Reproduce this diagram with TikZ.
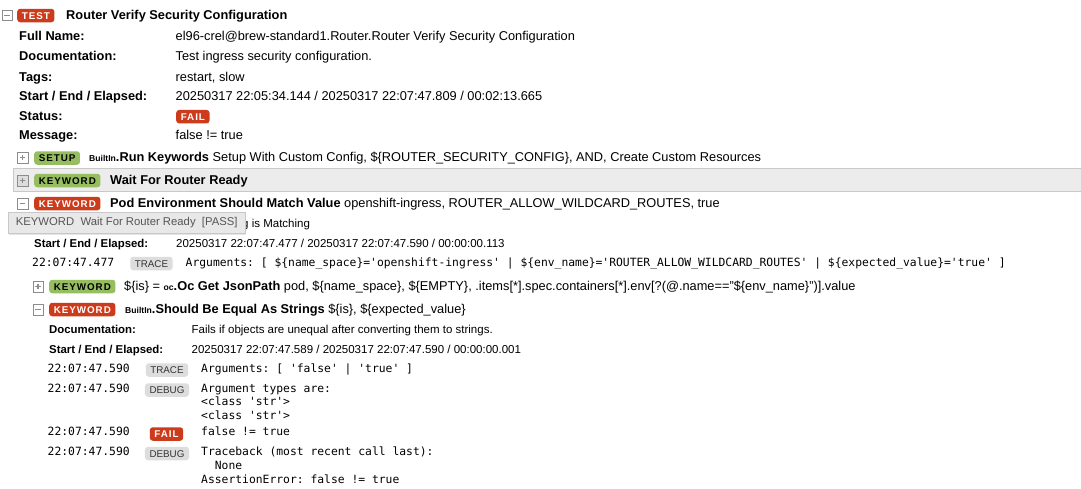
\documentclass[tikz,border=0pt]{standalone}
\usepackage{fontspec}
\setmainfont{Liberation Sans}
\setmonofont{DejaVu Sans Mono}
\newfontfamily\tagfont[LetterSpace=10]{Liberation Sans}
\usetikzlibrary{shadows}
\newcommand\fsz[1]{\fontsize{#1}{#1}\selectfont}
\newcommand\libname[1]{{\fsz{8.6}\bfseries #1}}
\definecolor{failred}{HTML}{CC3C1C}
\definecolor{passgreen}{HTML}{97BD61}
\definecolor{msggray}{HTML}{DDDDDD}
\definecolor{msgtext}{HTML}{333333}
\definecolor{rowfill}{HTML}{ECECEC}
\definecolor{rowline}{HTML}{C8C8C8}
\definecolor{tipfill}{HTML}{E8E8E8}
\definecolor{tiptext}{HTML}{555555}
\definecolor{togline}{HTML}{8C8C8C}

\begin{document}
\begin{tikzpicture}[x=1pt, y=-1pt,
  txt/.style={anchor=base west, inner sep=0pt},
  lbl/.style={txt, font=\fsz{12.8}\bfseries},
  val/.style={txt, font=\fsz{12.8}},
  sublbl/.style={txt, font=\fsz{11.4}\bfseries},
  subval/.style={txt, font=\fsz{11.5}},
  mono/.style={txt, font=\ttfamily\fsz{11.35}},
  tag/.style={rounded corners=3pt, inner xsep=4.6pt, inner ysep=0pt, minimum height=13.5pt,
    text height=7pt, text depth=0pt, anchor=west},
  failtag/.style={tag, fill=failred, text=white, font=\tagfont\fsz{9.8}\bfseries},
  passtag/.style={tag, fill=passgreen, text=black, font=\tagfont\fsz{9.8}\bfseries},
  msgtag/.style={tag, anchor=center, fill=msggray, text=msgtext, font=\fsz{9.8}},
  toggle/.style={draw=togline, fill=white, minimum size=10.5pt, inner sep=0pt, anchor=center},
  minusbox/.style={toggle, path picture={
    \draw[line width=1.5pt] ([xshift=-2.7pt]path picture bounding box.center) -- ([xshift=2.7pt]path picture bounding box.center);}},
  plusbox/.style={toggle, path picture={
    \draw[line width=1.5pt] ([xshift=-2.7pt]path picture bounding box.center) -- ([xshift=2.7pt]path picture bounding box.center)
      ([yshift=-2.7pt]path picture bounding box.center) -- ([yshift=2.7pt]path picture bounding box.center);}}]
\useasboundingbox (0,0) rectangle (1081,488);
\fill[white] (0,0) rectangle (1081,488);

% test header and its metadata
\node[minusbox] (tgTest) at (7,15.3) {};
\node[failtag] (tagTest) at (17,15.5) {TEST};
\node[lbl] (title) at (66,19) {Router Verify Security Configuration};
\node[lbl] (lFull) at (19,40.7) {Full Name:};
\node[val] (vFull) at (175.5,40.7) {el96-crel@brew-standard1.Router.Router Verify Security Configuration};
\node[lbl] (lDoc) at (19,60) {Documentation:};
\node[val] (vDoc) at (175.5,60) {Test ingress security configuration.};
\node[lbl] (lTags) at (19,81.5) {Tags:};
\node[val] (vTags) at (175.5,81.5) {restart, slow};
\node[lbl] (lTime) at (19,100.7) {Start / End / Elapsed:};
\node[val] (vTime) at (175.5,100.7) {20250317 22:05:34.144 / 20250317 22:07:47.809 / 00:02:13.665};
\node[lbl] (lStatus) at (19,120) {Status:};
\node[failtag] (vStatus) at (176,116.7) {FAIL};
\node[lbl] (lMsg) at (19,139) {Message:};
\node[val] (vMsg) at (175.5,139) {false != true};

% setup
\node[plusbox] (tgSetup) at (22.5,157.5) {};
\node[passtag] (tagSetup) at (34,158) {SETUP};
\node[val] (kwSetup) at (89,161.3) {\libname{BuiltIn}\textbf{.Run Keywords} Setup With Custom Config, \$\{ROUTER\_SECURITY\_CONFIG\}, AND, Create Custom Resources};

% highlighted keyword
\filldraw[fill=rowfill, draw=rowline] (13,168) rectangle (1082,191);
\node[plusbox, fill=msggray] (tgWait) at (22.5,180.5) {};
\node[passtag] (tagWait) at (34,180.5) {KEYWORD};
\node[lbl] (kwWait) at (110,184) {Wait For Router Ready};

% failing keyword
\node[minusbox] (tgPod) at (22.5,203.5) {};
\node[failtag] (tagPod) at (34,203.5) {KEYWORD};
\node[val] (kwPod) at (110,207) {\textbf{Pod Environment Should Match Value} openshift-ingress, ROUTER\_ALLOW\_WILDCARD\_ROUTES, true};
\node[subval] (vPodDoc) at (242,227) {g is Matching};
\node[sublbl] (lPodTime) at (34,247.5) {Start / End / Elapsed:};
\node[subval] (vPodTime) at (176,247.5) {20250317 22:07:47.477 / 20250317 22:07:47.590 / 00:00:00.113};
\node[mono] (tPod) at (32,266) {22:07:47.477};
\node[msgtag] (mPod) at (151.5,263.5) {TRACE};
\node[mono] (aPod) at (185.5,266) {Arguments: [ \$\{name\_space\}='openshift-ingress' | \$\{env\_name\}='ROUTER\_ALLOW\_WILDCARD\_ROUTES' | \$\{expected\_value\}='true' ]};

% nested keywords
\node[plusbox] (tgOc) at (38,286.5) {};
\node[passtag] (tagOc) at (49,286.5) {KEYWORD};
\node[val] (kwOc) at (124,290) {\$\{is\} = \libname{oc}\textbf{.Oc Get JsonPath} pod, \$\{name\_space\}, \$\{EMPTY\}, .items[*].spec.containers[*].env[?(@.name=="\$\{env\_name\}")].value};
\node[minusbox] (tgEq) at (38,309.5) {};
\node[failtag] (tagEq) at (49,309.5) {KEYWORD};
\node[val] (kwEq) at (125,313) {\libname{BuiltIn}\textbf{.Should Be Equal As Strings} \$\{is\}, \$\{expected\_value\}};
\node[sublbl] (lEqDoc) at (49,333.5) {Documentation:};
\node[subval] (vEqDoc) at (191.5,333.5) {Fails if objects are unequal after converting them to strings.};
\node[sublbl] (lEqTime) at (49,353) {Start / End / Elapsed:};
\node[subval] (vEqTime) at (191.5,353) {20250317 22:07:47.589 / 20250317 22:07:47.590 / 00:00:00.001};

% messages
\node[mono] (t1) at (47.5,372) {22:07:47.590};
\node[msgtag] (m1) at (167,370) {TRACE};
\node[mono] (a1) at (201,372) {Arguments: [ 'false' | 'true' ]};
\node[mono] (t2) at (47.5,392) {22:07:47.590};
\node[msgtag] (m2) at (167,390) {DEBUG};
\node[mono] (a2) at (201,392) {Argument types are:};
\node[mono] (a2b) at (201,405.7) {<class 'str'>};
\node[mono] (a2c) at (201,419.3) {<class 'str'>};
\node[mono] (t3) at (47.5,435) {22:07:47.590};
\node[failtag, anchor=center] (m3) at (166.5,434) {FAIL};
\node[mono] (a3) at (201,435.3) {false != true};
\node[mono] (t4) at (47.5,455.5) {22:07:47.590};
\node[msgtag] (m4) at (167,453.5) {DEBUG};
\node[mono] (a4) at (201,455.3) {Traceback (most recent call last):};
\node[mono] (a4b) at (201,469) {\ \ None};
\node[mono] (a4c) at (201,483.3) {AssertionError: false != true};

% tooltip over the keyword documentation
\node[anchor=north west, minimum width=237pt, minimum height=20.5pt, inner sep=0pt,
  fill=tipfill, draw=rowline, text=tiptext, font=\fsz{11.3},
  drop shadow={opacity=0.2, shadow xshift=1pt, shadow yshift=-2pt}]
  (tip) at (8,212) {KEYWORD~~Wait For Router Ready~~[PASS]};
\end{tikzpicture}
\end{document}
